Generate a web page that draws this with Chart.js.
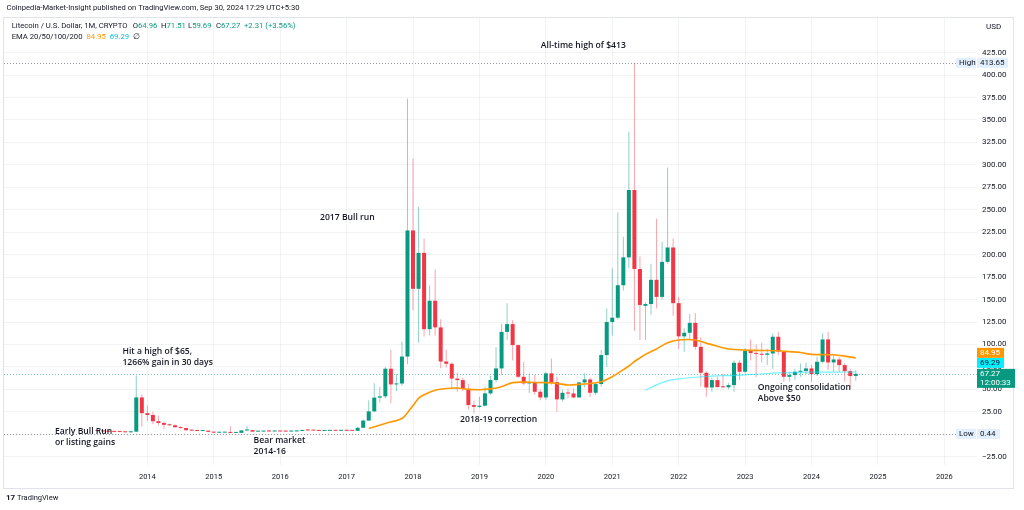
<!DOCTYPE html>
<html>
<head>
<meta charset="utf-8">
<script src="https://cdn.jsdelivr.net/npm/chart.js@4.4.0/dist/chart.umd.min.js"></script>
<style>
  html, body { margin: 0; padding: 0; background: #fff; }
  #wrap { position: relative; width: 1024px; height: 510px; }
</style>
</head>
<body>
<div id="wrap"><canvas id="chart" width="1024" height="510"></canvas></div>
<script>
// LTC/USD monthly candles, first candle is Apr 2013 (month index -9, Jan 2014 = 0)
const firstMonthIndex = -9;

const opens = [
  3.9, 3.6, 3.2, 2.8, 2.7, 2.6, 2.2, 2.9, 41,                       // 2013
  23.5, 21.5, 14.5, 12.5, 10.5, 10, 7.8, 6.9, 4.5, 4.0, 3.7, 4.0,   // 2014
  2.7, 1.7, 1.8, 1.9, 1.5, 1.6, 4.2, 4.6, 2.9, 3.0, 3.2, 3.1,       // 2015
  3.5, 3.1, 3.0, 3.2, 3.7, 4.7, 4.2, 4.1, 3.7, 3.8, 3.95, 3.85,     // 2016
  4.4, 3.9, 3.8, 7.2, 15.2, 25.5, 40.8, 42.2, 73, 55.5, 56.5, 86.5, // 2017
  227, 162, 202, 117, 148.7, 119, 81, 78.5, 62, 60.3, 50.5, 32.5,   // 2018
  30.5, 31.8, 45.5, 60.4, 73.3, 114, 122.7, 99.3, 64, 56.6, 58, 47.3, // 2019
  41, 67.8, 58, 38.8, 46.2, 45.4, 41, 57.7, 61, 46.2, 55.9, 88.2,   // 2020
  125, 129.8, 166, 197, 272, 184, 143, 145, 172, 153, 192, 208,     // 2021
  146, 109, 113, 124, 97.4, 68.5, 52.1, 60.3, 52.5, 52.3, 54.7, 79.6, // 2022
  69.6, 93, 90.5, 89.5, 88.5, 90, 108.6, 92, 64, 65.9, 69.6, 70.5,  // 2023
  73.3, 67, 80.7, 105.6, 80, 83.3, 77, 70.3, 64.96                  // 2024
];
const highs = [
  4.5, 3.9, 3.3, 3.2, 2.9, 2.8, 3.0, 65.5, 44.4,
  32, 25, 20.5, 14, 11.5, 11, 8.5, 7.2, 5.2, 4.3, 4.2, 4.1,
  2.8, 2.1, 2.0, 9.0, 1.8, 4.6, 9.3, 4.8, 3.2, 3.4, 4.5, 3.8,
  3.7, 3.5, 3.3, 3.8, 4.9, 5.4, 4.4, 4.1, 4.0, 4.0, 4.0, 4.6,
  4.6, 3.9, 8.0, 16.3, 38, 56.7, 53, 75, 94, 67, 103, 374,
  307, 253, 218, 166, 183.6, 128, 94, 80, 68.5, 63, 56, 37,
  41.8, 52.9, 65, 97, 123, 146, 127, 100, 80.8, 67.8, 66, 50,
  69.6, 84.5, 64, 50, 51, 51, 58.5, 67.8, 63, 57, 93.8, 140,
  185, 247, 220, 337, 413.65, 198, 147, 190, 240, 214, 297, 218,
  153, 118, 134, 135, 108, 70, 63, 64, 67, 57, 82, 82,
  96, 105.6, 100, 102, 95, 112.3, 114, 93, 69.6, 73, 78.9, 80,
  77, 86.3, 112.3, 114, 88, 86, 79, 73, 71.51
];
const lows = [
  1.9, 2.4, 2.5, 2.3, 2.3, 2.0, 1.9, 2.7, 8.5,
  15, 11.5, 10, 5.5, 9.5, 7.5, 6.5, 3.8, 3.5, 3.6, 3.4, 2.6,
  1.1, 1.6, 1.6, 1.3, 1.3, 1.5, 3.3, 2.7, 2.7, 2.8, 2.9, 3.0,
  3.0, 2.9, 2.9, 3.1, 3.6, 4.0, 3.9, 3.6, 3.6, 3.7, 3.7, 3.6,
  3.6, 3.6, 3.7, 7.0, 14.9, 24.5, 35, 40, 34.5, 48, 54, 78,
  138, 102, 109, 110, 110, 73.4, 74.4, 50, 47.4, 48, 27.5, 23,
  29, 30.5, 44, 58, 66, 105, 82, 62, 54.8, 46, 44, 38,
  38.5, 55, 25, 36.5, 40, 40, 40.5, 52, 41.8, 44, 53, 75,
  110, 128, 160, 185, 115, 105, 105, 133, 140, 150, 190, 132,
  95, 92, 105, 94, 53, 41.8, 47.3, 52, 51, 50, 47.3, 60.5,
  68, 82, 63.5, 80, 77, 73, 88, 58.5, 58.5, 60.3, 64, 67,
  58.5, 65, 79, 71.5, 69.6, 69.6, 58.5, 51, 59.69
];
const closes = [
  3.6, 3.2, 2.8, 2.7, 2.6, 2.2, 2.9, 41, 23.5,
  21.5, 14.5, 12.5, 10.5, 10, 7.8, 6.9, 4.5, 4.0, 3.7, 4.0, 2.7,
  1.8, 1.9, 1.9, 1.5, 1.6, 4.2, 4.6, 2.9, 3.0, 3.1, 3.1, 3.5,
  3.1, 3.0, 3.2, 3.7, 4.7, 4.2, 4.1, 3.7, 3.8, 3.9, 3.85, 4.4,
  3.9, 3.8, 7.2, 15.2, 25.5, 40.8, 42.2, 73, 55.5, 56.5, 86.5, 227,
  162, 202, 117, 148.7, 119, 81, 78.5, 62, 60.3, 50.5, 32.5, 30.5,
  31.8, 45.5, 60.4, 73.3, 114, 122.7, 99.3, 64, 56.6, 58, 47.3, 41,
  67.8, 58, 38.8, 46.2, 45.4, 41, 57.7, 61, 46.2, 55.9, 88.2, 125,
  129.8, 166, 197, 272, 184, 144, 145, 172, 153, 192, 208, 146,
  109, 113, 124, 97.4, 68.5, 52.1, 60.3, 52.5, 52.3, 54.7, 79.6, 69.6,
  93, 90.5, 89.5, 88.5, 90, 108.6, 92, 64, 65.9, 69.6, 70.5, 73.3,
  67, 80.7, 105.6, 80, 83.3, 77, 70.3, 64.8, 67.27
];

// EMA lines (month index, value)
const emaOrangeMonths = [40, 43, 46, 47, 48, 49, 50, 52, 54, 56, 58, 60, 62, 64, 66, 68, 70, 72, 74, 76, 78, 80, 82, 84, 86, 87, 88, 89, 90, 92, 94, 96, 99, 101, 103, 105, 108, 111, 114, 116, 118, 120, 124, 126, 128];
const emaOrangeValues = [6.5, 12, 17.6, 24, 32, 40, 44, 49, 51, 51.5, 50, 49.5, 50.5, 53, 57.5, 58, 57.7, 57.5, 56.6, 54.8, 55.5, 56.5, 58.5, 64, 72, 76, 81, 85, 89, 95, 102, 105, 105, 101.5, 98, 95, 93.7, 93.3, 93, 92, 91, 89, 88.5, 87, 85];
const emaCyanMonths = [90, 92, 94, 96, 99, 102, 106, 110, 114, 118, 122, 128];
const emaCyanValues = [49, 55, 59.5, 61.5, 63.5, 64.8, 65.5, 66.8, 68.3, 69, 69.2, 69.3];

const yearTicks = [2014, 2015, 2016, 2017, 2018, 2019, 2020, 2021, 2022, 2023, 2024, 2025, 2026];
const priceTicks = [-25, 0, 25, 50, 75, 100, 125, 150, 175, 200, 225, 250, 275, 300, 325, 350, 375, 400, 425];

const allTimeHigh = 413.65;
const allTimeLow = 0.44;
const lastPrice = 67.27;

const notes = [
  { lines: ['All-time high of $413'], m: 71.1, v: 432.4 },
  { lines: ['2017 Bull run'], m: 31.2, v: 240.9 },
  { lines: ['Hit a high of $65,', '1266% gain in 30 days'], m: -4.5, v: 91.6 },
  { lines: ['Early Bull Run', 'or listing gains'], m: -16.7, v: 2.5 },
  { lines: ['Bear market', '2014-16'], m: 19.2, v: -7.5 },
  { lines: ['2018-19 correction'], m: 56.5, v: 15.9 },
  { lines: ['Ongoing consolidation', 'Above $50'], m: 110.3, v: 51.5 }
];

const UP = '#089981', DOWN = '#f23645';
const UP_WICK = 'rgba(8,153,129,0.45)', DOWN_WICK = 'rgba(242,54,69,0.45)';
const TEXT = '#131722';

const months = opens.map((_, i) => firstMonthIndex + i);
const isUp = i => closes[i] >= opens[i];

const wickData = months.map((m, i) => ({ x: m, y: [lows[i], highs[i]] }));
const bodyData = months.map((m, i) => ({ x: m, y: [Math.min(opens[i], closes[i]), Math.max(opens[i], closes[i])] }));

// Overlay: header, notes, price labels
const overlay = {
  id: 'overlay',
  beforeDatasetsDraw(chart) {
    const { ctx, chartArea: a, scales: { y } } = chart;
    ctx.save();
    ctx.lineWidth = 1;
    // high / low dotted lines
    ctx.strokeStyle = '#9598a1';
    ctx.setLineDash([1, 2]);
    [allTimeHigh, allTimeLow].forEach(v => {
      const py = Math.round(y.getPixelForValue(v)) + 0.5;
      ctx.beginPath(); ctx.moveTo(a.left, py); ctx.lineTo(a.right - 21, py); ctx.stroke();
    });
    // last price dotted line
    ctx.strokeStyle = 'rgba(8,153,129,0.55)';
    const ly = Math.round(y.getPixelForValue(lastPrice)) + 0.5;
    ctx.beginPath(); ctx.moveTo(a.left, ly); ctx.lineTo(a.right, ly); ctx.stroke();
    ctx.restore();
  },
  afterDraw(chart) {
    const { ctx, chartArea: a, scales: { x, y } } = chart;
    ctx.save();

    // frame
    ctx.strokeStyle = '#e0e3eb';
    ctx.lineWidth = 1;
    ctx.strokeRect(3.5, 17.5, 1010, 471);

    // top line
    ctx.textBaseline = 'middle';
    ctx.textAlign = 'left';
    ctx.fillStyle = TEXT;
    ctx.font = '7.6px Roboto, sans-serif';
    ctx.fillText('Coinpedia-Market-Insight published on TradingView.com, Sep 30, 2024 17:29 UTC+5:30', 6.5, 8);

    // legend rows (x positions)
    ctx.font = '7.7px Roboto, sans-serif';
    const row1 = [
      ['Litecoin / U.S. Dollar, 1M, CRYPTO', 11.7, TEXT],
      ['O', 132.7, TEXT, '64.96'], ['H', 161, TEXT, '71.51'], ['L', 188, TEXT, '59.69'], ['C', 216, TEXT, '67.27'],
      ['+2.31 (+3.56%)', 244, UP]
    ];
    row1.forEach(([t, px, c, val]) => {
      ctx.fillStyle = c; ctx.fillText(t, px, 26);
      if (val) { ctx.fillStyle = UP; ctx.fillText(val, px + ctx.measureText(t).width, 26); }
    });
    const row2 = [['EMA 20/50/100/200', TEXT], ['84.95', '#ff9800'], ['69.29', '#00c4dc'], ['\u2205', TEXT]];
    let rx = 11.7;
    row2.forEach(([t, c]) => { ctx.fillStyle = c; ctx.fillText(t, rx, 37); rx += ctx.measureText(t).width + 4; });

    // notes
    ctx.fillStyle = TEXT;
    ctx.font = '600 8.6px "Open Sans", sans-serif';
    notes.forEach(n => {
      const px = x.getPixelForValue(n.m), py = y.getPixelForValue(n.v);
      n.lines.forEach((t, k) => ctx.fillText(t, px, py + k * 10.5));
    });

    // price axis boxes
    ctx.font = '8px Roboto, sans-serif';
    const box = (t, x0, y0, w, h, bg, fg) => {
      ctx.fillStyle = bg; ctx.fillRect(x0, y0, w, h);
      ctx.fillStyle = fg; ctx.fillText(t, x0 + 3, y0 + h / 2 + 0.5);
    };
    const hy = y.getPixelForValue(allTimeHigh);
    box('High', a.right - 21, hy - 5, 20, 10, '#e3effd', TEXT);
    box('413.65', a.right, hy - 5, 31, 10, '#e3effd', TEXT);
    const lwy = y.getPixelForValue(allTimeLow);
    box('Low', a.right - 21, lwy - 5, 20, 10, '#e3effd', TEXT);
    box('0.44', a.right, lwy - 5, 23, 10, '#e3effd', TEXT);

    const py = y.getPixelForValue(lastPrice);
    const gTop = py - 5;
    box('69.29', a.right, gTop - 11, 27, 10, '#00f0ff', TEXT);
    box('84.95', a.right, gTop - 21, 27, 10, '#ff9800', '#fff');
    ctx.fillStyle = UP; ctx.fillRect(a.right, gTop, 38, 19);
    ctx.fillStyle = '#fff';
    ctx.fillText('67.27', a.right + 3, gTop + 5);
    ctx.fillText('12:00:33', a.right + 3, gTop + 14);

    // currency
    ctx.fillStyle = TEXT;
    ctx.fillText('USD', 986, 27);

    // footer logo
    ctx.font = 'bold 8px Roboto, sans-serif';
    ctx.fillText('17', 6, 498);
    ctx.font = '7.5px Roboto, sans-serif';
    ctx.fillText('TradingView', 17, 498);
    ctx.restore();
  }
};

new Chart(document.getElementById('chart').getContext('2d'), {
  type: 'bar',
  data: {
    datasets: [
      {
        type: 'line', label: 'EMA orange', order: 1,
        data: emaOrangeMonths.map((m, i) => ({ x: m, y: emaOrangeValues[i] })),
        borderColor: '#ff9800', borderWidth: 1.6, pointRadius: 0, tension: 0.3
      },
      {
        type: 'line', label: 'EMA cyan', order: 0,
        data: emaCyanMonths.map((m, i) => ({ x: m, y: emaCyanValues[i] })),
        borderColor: 'rgba(0,229,255,0.55)', borderWidth: 1.2, pointRadius: 0, tension: 0.3
      },
      {
        label: 'wicks', order: 3, grouped: false,
        data: wickData, barThickness: 1, inflateAmount: 0,
        backgroundColor: months.map((_, i) => isUp(i) ? UP_WICK : DOWN_WICK)
      },
      {
        label: 'bodies', order: 2, grouped: false,
        data: bodyData, barThickness: 4, minBarLength: 1, inflateAmount: 0,
        backgroundColor: months.map((_, i) => isUp(i) ? UP : DOWN)
      }
    ]
  },
  options: {
    responsive: false,
    animation: false,
    devicePixelRatio: 1,
    layout: { padding: { left: 4, top: 17, right: 11, bottom: 22 } },
    plugins: { legend: { display: false }, tooltip: { enabled: false } },
    scales: {
      x: {
        type: 'linear', min: -25.9, max: 149.9, offset: false,
        grid: { color: 'rgba(42,46,57,0.06)', offset: false, drawTicks: false },
        border: { display: false },
        afterBuildTicks: s => { s.ticks = yearTicks.map(yr => ({ value: (yr - 2014) * 12 })); },
        afterFit: s => { s.height = 23; },
        ticks: {
          autoSkip: false, maxRotation: 0, padding: 8, color: TEXT,
          font: { family: 'Roboto', size: 7.5 },
          callback: v => String(2014 + Math.round(v / 12))
        }
      },
      y: {
        position: 'right', min: -34.25, max: 464.7,
        grid: { color: 'rgba(42,46,57,0.06)', drawTicks: false },
        border: { display: false },
        afterBuildTicks: s => { s.ticks = priceTicks.map(v => ({ value: v })); },
        afterFit: s => { s.width = 36; },
        ticks: {
          padding: 5, color: TEXT,
          font: { family: 'Roboto', size: 8 },
          callback: v => (v < 0 ? '\u2212' + Math.abs(v).toFixed(2) : v.toFixed(2))
        }
      }
    }
  },
  plugins: [overlay]
});
</script>
</body>
</html>
